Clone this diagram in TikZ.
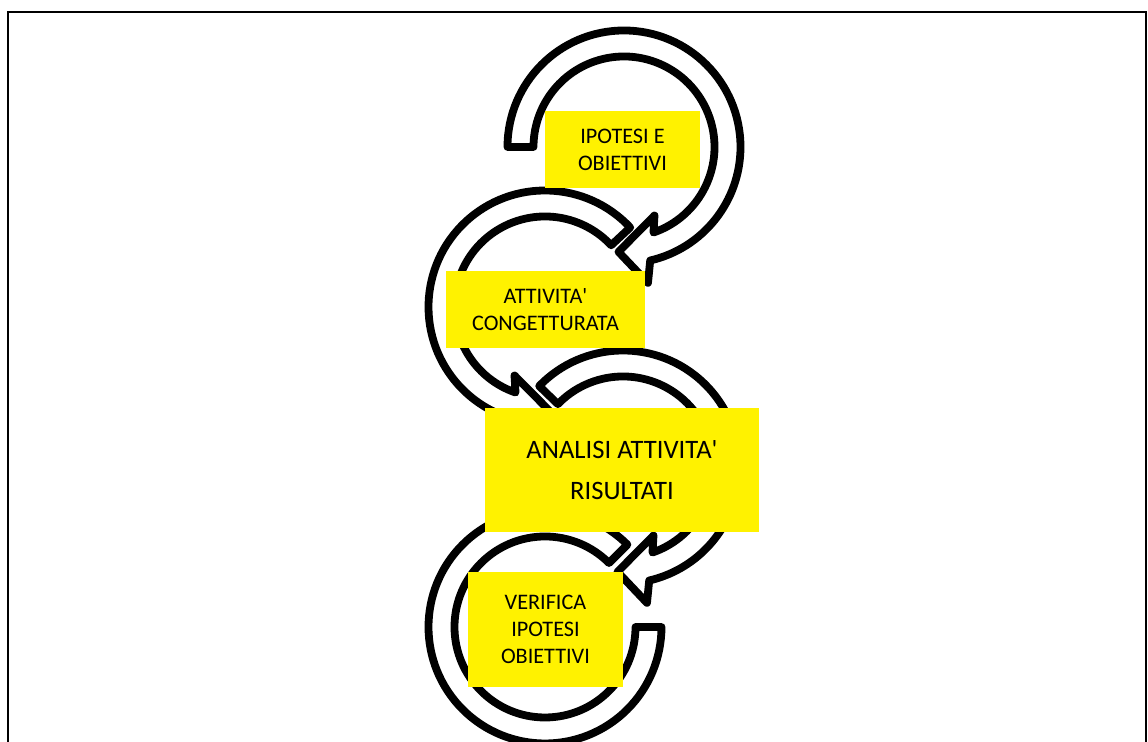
\documentclass[tikz,border=0pt]{standalone}
\usepackage{fontspec}
\setmainfont{Carlito}

\begin{document}
\begin{tikzpicture}[
        x=0.5pt, y=0.5pt,
        ring/.style={draw=black, fill=white, line width=3.9pt, line join=round},
        phase/.style={fill=yellow, inner sep=0pt, align=center,
                      font=\fontsize{11.1pt}{13.5pt}\selectfont},
        bigphase/.style={phase, font=\fontsize{13.3pt}{20.5pt}\selectfont}
    ]
    \useasboundingbox (0,0) rectangle (1148,742);
    \draw[line width=0.75pt] (8,0) -- (8,730) -- (1146,730) -- (1146,0);

    % centres of the four circular arrows
    \coordinate (c1) at (624,595);
    \coordinate (c2) at (545,435);
    \coordinate (c3) at (623,275);
    \coordinate (c4) at (545,115);

    % clockwise arrows
    \draw[ring, shift={(c1)}] (180:116.5) arc[start angle=180, end angle=-77, radius=116.5]
        -- (-80:138) -- (-93:105) -- (-66:75) -- (-71:90.5)
        arc[start angle=-71, end angle=180, radius=90.5] -- cycle;
    \draw[ring, shift={(c3)}] (136:116.5) arc[start angle=136, end angle=-77, radius=116.5]
        -- (-80:138) -- (-93:105) -- (-66:75) -- (-71:90.5)
        arc[start angle=-71, end angle=136, radius=90.5] -- cycle;

    % counter-clockwise arrows
    \draw[ring, shift={(c2)}] (43:116.5) arc[start angle=43, end angle=257, radius=116.5]
        -- (260:138) -- (273:105) -- (246:75) -- (251:90.5)
        arc[start angle=251, end angle=43, radius=90.5] -- cycle;
    \draw[ring, shift={(c4)}] (45:116.5) arc[start angle=45, end angle=360, radius=116.5]
        -- (0:90.5) arc[start angle=360, end angle=45, radius=90.5] -- cycle;

    \node[phase, minimum width=77.5pt, minimum height=38.5pt] (ipotesi) at (622.5,592.5)
        {IPOTESI E\\OBIETTIVI};
    \node[phase, minimum width=99.5pt, minimum height=38.5pt] (attivita) at (545.5,432.5)
        {ATTIVITA\textquotesingle\\CONGETTURATA};
    \node[bigphase, minimum width=137pt, minimum height=62pt] (analisi) at (622,272)
        {ANALISI ATTIVITA\textquotesingle\\RISULTATI};
    \node[phase, minimum width=77.5pt, minimum height=57.5pt] (verifica) at (545.5,112.5)
        {VERIFICA\\IPOTESI\\OBIETTIVI};

\end{tikzpicture}
\end{document}
